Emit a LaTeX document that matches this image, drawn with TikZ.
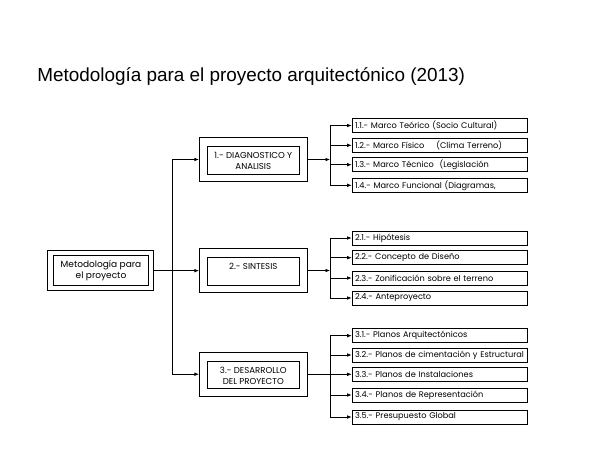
\documentclass[tikz,border=0pt]{standalone}
\usepackage{fontspec}
\setmainfont{Liberation Sans}
\newfontfamily\gothic{Poppins}
\usetikzlibrary{arrows.meta}
\begin{document}
\begin{tikzpicture}[x=1pt,y=-1pt,
  line width=0.7pt,
  arr/.style={-{Latex[length=4.5pt,width=3.6pt]}},
  outerbox/.style={draw, minimum width=107.7pt, minimum height=44.4pt, inner sep=0pt},
  innerbox/.style={draw, minimum width=92pt, minimum height=27.5pt, inner sep=0pt},
  btext/.style={font=\gothic\fontsize{8.6}{10.8}\selectfont, align=center, inner sep=0pt},
  leaf/.style={draw, anchor=west, minimum height=14pt, text width=169.6pt, inner xsep=3pt, inner ysep=0pt, align=left, font=\gothic\fontsize{8.2}{9}\selectfont}
]
\useasboundingbox (0,0) rectangle (600,464);
\node[anchor=base west, inner sep=0pt, font=\fontsize{18.9}{20}\selectfont] (title) at (37,81) {Metodología para el proyecto arquitectónico (2013)};

% root
\node[draw, minimum width=105.6pt, minimum height=40pt, inner sep=0pt] (root) at (100.5,270.7) {};
\node[draw, minimum width=95.4pt, minimum height=30.4pt, inner sep=0pt] (rooti) at (101,270.5) {};
\node[btext, font=\gothic\fontsize{9}{11.2}\selectfont] (roott) at (101,270.5) {Metodología para\\el proyecto};

% level 1
\node[outerbox] (b1) at (253.15,159.5) {};
\node[innerbox] (b1i) at (253.3,160.35) {};
\node[btext] (b1t) at (253.3,161) {1.- DIAGNOSTICO Y\\ANALISIS};
\node[outerbox] (b2) at (253.15,270.5) {};
\node[innerbox] (b2i) at (253.3,271.35) {};
\node[btext, anchor=north] (b2t) at (253.3,262.5) {2.- SINTESIS};
\node[outerbox] (b3) at (253.15,374.2) {};
\node[innerbox, minimum height=27.7pt] (b3i) at (253.3,374.85) {};
\node[btext] (b3t) at (253.3,375.5) {3.- DESARROLLO\\DEL PROYECTO};

% level 2
\node[leaf] (c11) at (351.7,125.5) {1.1.- Marco Teórico (Socio Cultural)};
\node[leaf] (c12) at (351.7,145.3) {1.2.- Marco Físico\hspace{12pt}(Clima Terreno)};
\node[leaf] (c13) at (351.7,164.7) {1.3.- Marco Técnico\hspace{3pt} (Legislación};
\node[leaf] (c14) at (351.7,185.3) {1.4.- Marco Funcional (Diagramas,};

\node[leaf] (c21) at (351.7,238) {2.1.- Hipótesis};
\node[leaf] (c22) at (351.7,257.7) {2.2.- Concepto de Diseño};
\node[leaf] (c23) at (351.7,278) {2.3.- Zonificación sobre el terreno};
\node[leaf] (c24) at (351.7,298) {2.4.- Anteproyecto};

\node[leaf] (c31) at (351.7,335.7) {3.1.- Planos Arquitectónicos};
\node[leaf] (c32) at (351.7,355) {3.2.- Planos de cimentación y Estructural};
\node[leaf] (c33) at (351.7,374.3) {3.3.- Planos de Instalaciones};
\node[leaf] (c34) at (351.7,395) {3.4.- Planos de Representación};
\node[leaf] (c35) at (351.7,417) {3.5.- Presupuesto Global};

% connectors level 0 -> 1
\coordinate (t0) at (172,270.5);
\draw[arr] (root.east) -- (root.east -| b2.west);
\draw[arr] (t0) |- (b1.west);
\draw[arr] (t0) |- (b3.west);

% connectors level 1 -> 2
\coordinate (j1) at (330,159.5);
\coordinate (j2) at (330,270.5);
\coordinate (j3) at (330,374.2);
\draw[arr] (b1.east) -- (j1);
\draw[arr] (b2.east) -- (j2);
\draw (b3.east) -- (j3);
\foreach \c in {c11,c12,c13,c14} \draw[arr] (j1) |- (\c.west);
\foreach \c in {c21,c22,c23,c24} \draw[arr] (j2) |- (\c.west);
\foreach \c in {c31,c32,c33,c34,c35} \draw[arr] (j3) |- (\c.west);
\end{tikzpicture}
\end{document}
